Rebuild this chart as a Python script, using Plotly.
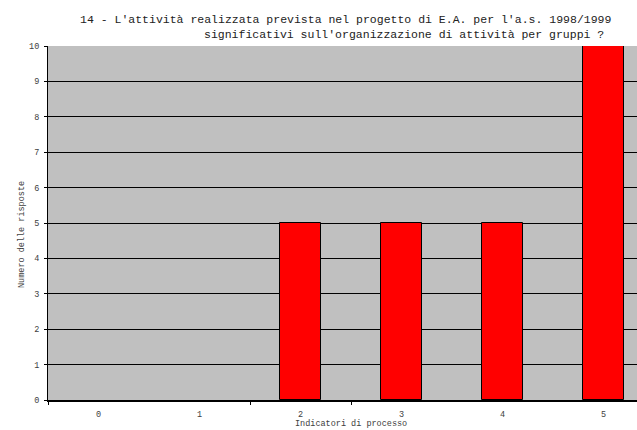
import plotly.graph_objects as go

categories = [0, 1, 2, 3, 4, 5]
tick_labels = ["0", "1", "2", "3", "4", "5"]
values = [0, 0, 5, 5, 5, 10]
boundary_ticks = [-0.5, 1.5, 2.5]

title_line1 = "14 - L'attività realizzata prevista nel progetto di E.A. per l'a.s. 1998/1999"
title_line2 = "significativi sull'organizzazione di attività per gruppi ?"
x_title = "Indicatori di processo"
y_title = "Numero delle risposte"

FONT = "Liberation Mono"
W, H = 637, 430
ML, MR, MT, MB = 48, 0, 46, 30
PW = W - ML - MR
PH = H - MT - MB
CAT_PX = 101.0
xr = [-0.5, -0.5 + PW / CAT_PX]

fig = go.Figure()
fig.add_trace(go.Bar(
    x=categories, y=values, width=0.4,
    marker=dict(color="#FF0000",
                line=dict(color="black", width=[0 if v == 0 else 1 for v in values])),
    showlegend=False,
))

fig.update_layout(
    width=W, height=H,
    margin=dict(l=ML, r=MR, t=MT, b=MB, autoexpand=False),
    paper_bgcolor="white", plot_bgcolor="#C0C0C0",
    font=dict(family=FONT, size=8, color="#404040"),
    xaxis=dict(
        range=xr, tickmode="array", tickvals=categories, ticktext=tick_labels,
        ticks="", showgrid=False, zeroline=False, automargin=False,
        showline=True, linecolor="black", linewidth=2,
        tickfont=dict(family=FONT, size=8.5, color="#404040"),
        ticklabelstandoff=5,
    ),
    xaxis2=dict(
        range=xr, overlaying="x", anchor="y", side="bottom", automargin=False,
        tickmode="array", tickvals=boundary_ticks, showticklabels=False,
        ticks="outside", ticklen=4, tickcolor="black", tickwidth=1,
        showgrid=False, zeroline=False, showline=False,
    ),
    yaxis=dict(
        range=[0, 10], dtick=1, tick0=0, automargin=False,
        showgrid=True, gridcolor="black", gridwidth=1,
        zeroline=False, showline=True, linecolor="black", linewidth=1,
        ticks="outside", ticklen=3, tickcolor="black",
        tickfont=dict(family=FONT, size=8.5, color="#404040"),
        ticklabelstandoff=3,
    ),
    bargap=0,
)
# invisible trace to activate the boundary-tick axis
fig.add_trace(go.Scatter(x=[xr[0]], y=[0], xaxis="x2", mode="markers",
                         marker=dict(opacity=0), showlegend=False, hoverinfo="skip"))

fig.add_annotation(text=title_line1, xref="paper", yref="paper",
                   x=(78 - ML) / PW, y=(H - MB - 20) / PH, xanchor="left", yanchor="middle",
                   showarrow=False, font=dict(family=FONT, size=11.5, color="#222222"))
fig.add_annotation(text=title_line2, xref="paper", yref="paper",
                   x=(202 - ML) / PW, y=(H - MB - 34) / PH, xanchor="left", yanchor="middle",
                   showarrow=False, font=dict(family=FONT, size=11.5, color="#222222"))
fig.add_annotation(text=x_title, xref="x", yref="paper",
                   x=2.5, y=-24 / PH, xanchor="center", yanchor="middle",
                   showarrow=False, font=dict(family=FONT, size=8.5, color="#404040"))
fig.add_annotation(text=y_title, xref="paper", yref="paper",
                   x=(22 - ML) / PW, y=(H - MB - 235) / PH, xanchor="center", yanchor="middle",
                   textangle=-90, showarrow=False, font=dict(family=FONT, size=8.5, color="#404040"))

fig.write_html("out.html", config={"displayModeBar": False},
               post_script="document.body.style.margin='0';document.body.style.overflow='hidden';")
